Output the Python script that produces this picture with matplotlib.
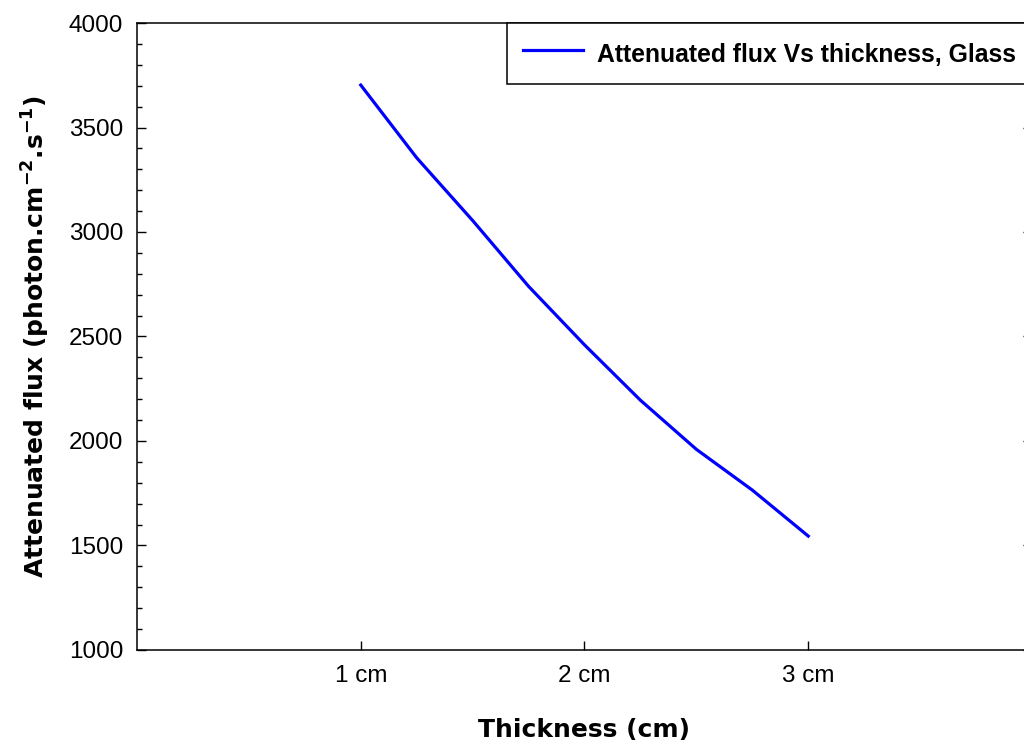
import matplotlib
matplotlib.use("Agg")
import matplotlib.pyplot as plt
from matplotlib.ticker import MultipleLocator

plt.rcParams['font.family'] = ['Liberation Sans', 'DejaVu Sans']
plt.rcParams['mathtext.fontset'] = 'dejavusans'

# data
thickness = [1.0, 1.25, 1.5, 1.75, 2.0, 2.25, 2.5, 2.75, 3.0]
flux = [3703, 3355, 3055, 2740, 2460, 2195, 1960, 1765, 1545]
xticks = [1, 2, 3]
xticklabels = ['1 cm', '2 cm', '3 cm']

fig = plt.figure(figsize=(10.24, 7.47), dpi=100)
ax = fig.add_axes([0.1338, 0.1299, 0.874, 0.8393])

ax.plot(thickness, flux, color='#0000ff', lw=2.3,
        label='Attenuated flux Vs thickness, Glass')

ax.set_xlim(0, 4)
ax.set_ylim(1000, 4000)
ax.set_xticks(xticks)
ax.set_xticklabels(xticklabels)
ax.yaxis.set_major_locator(MultipleLocator(500))
ax.yaxis.set_minor_locator(MultipleLocator(100))

ax.tick_params(axis='both', which='major', direction='in', length=6.5,
               width=1.0, labelsize=17.5)
ax.tick_params(axis='y', which='major', right=True, pad=10)
ax.tick_params(axis='x', which='major', pad=10.5)
ax.tick_params(axis='y', which='minor', direction='in', length=3.6, width=1.0)
for s in ax.spines.values():
    s.set_linewidth(1.1)

# axis titles are wide-set in the original, DejaVu bold matches its extent
ax.set_xlabel('Thickness (cm)', fontsize=18, fontweight='bold',
              family='DejaVu Sans')
ax.set_ylabel(r'Attenuated flux (photon.cm$^{\mathbf{-2}}$.s$^{\mathbf{-1}}$)',
              fontsize=18, fontweight='bold', family='DejaVu Sans')
ax.xaxis.label.set_va('baseline')
ax.yaxis.label.set_va('baseline')
ax.xaxis.set_label_coords(0.5, -0.1388)
ax.yaxis.set_label_coords(-0.1028, 0.5)

leg = ax.legend(loc='upper right', bbox_to_anchor=(1.0, 1.0), borderaxespad=0,
                fancybox=False, edgecolor='black', framealpha=1,
                prop={'weight': 'bold', 'size': 17.8},
                handlelength=2.45, handletextpad=0.55, borderpad=0.65,
                handleheight=1.4)
leg.get_frame().set_linewidth(1.1)

fig.savefig('out.png', dpi=100)
